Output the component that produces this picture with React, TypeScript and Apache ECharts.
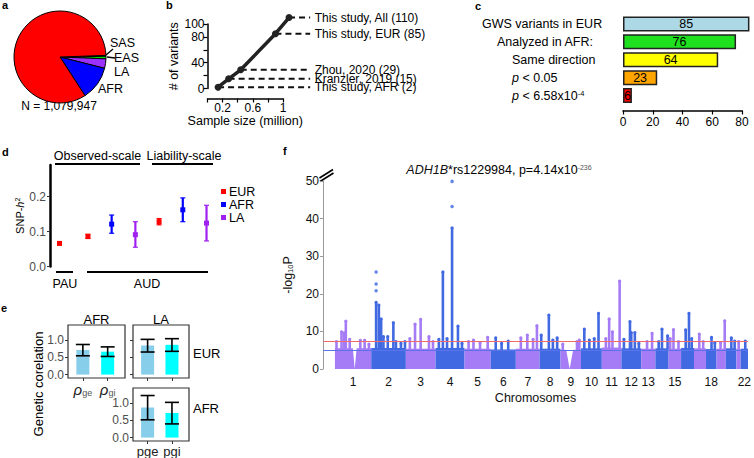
import React, { useEffect, useRef } from "react";
import * as echarts from "echarts";

const FONT = "'Liberation Sans', Arial, sans-serif";

// ---------- a: sample composition ----------
const pieNames = ["SAS", "EAS", "LA", "AFR", "EUR"];
const pieShares = [0.3, 0.9, 3.3, 11.9, 83.6];
const pieColors = ["#ff8c00", "#00e000", "#9b30ff", "#0000ff", "#ff0000"];
const pieEurLabel = "EUR (83.6%)";
const pieTotal = "N = 1,079,947";

// ---------- b: variants vs sample size ----------
const bStudies = [
  "This study, AFR (2)",
  "Kranzler, 2019 (15)",
  "Zhou, 2020 (29)",
  "This study, EUR (85)",
  "This study, All (110)",
];
const bSampleSize = [0.14, 0.28, 0.44, 0.9, 1.08];
const bVariants = [2, 15, 29, 85, 110];
const bYLabels = [0, 40, 80, 100];
const bXLabels = [0.2, 0.6, 1];

// ---------- c: replication ----------
const cCategories = [
  "GWS variants in EUR",
  "Analyzed in AFR:",
  "Same direction",
  "p < 0.05",
  "p < 6.58x10-4",
];
const cCounts = [85, 76, 64, 23, 6];
const cColors = ["#add8e6", "#1ee01e", "#ffff00", "#ffa500", "#ff0000"];

// ---------- d: SNP heritability ----------
const dPopulations = ["EUR", "AFR", "LA"];
const dPopColors = ["#ff0000", "#0000ff", "#a020f0"];
const dPos = [0, 1.2, 2.2, 3.2, 4.2, 5.2, 6.2];
const dPop = ["EUR", "EUR", "AFR", "LA", "EUR", "AFR", "LA"];
const dH2 = [0.066, 0.086, 0.121, 0.091, 0.128, 0.162, 0.124];
const dLow = [0.062, 0.08, 0.095, 0.055, 0.119, 0.128, 0.073];
const dHigh = [0.07, 0.092, 0.147, 0.128, 0.137, 0.196, 0.175];
const dYTicks = [0, 0.1, 0.2];

// ---------- e: genetic correlation ----------
const eTopLabels = ["ρge", "ρgi"];
const eBottomLabels = ["pge", "pgi"];
const eBarColors = ["#87ceeb", "#00ffff"];
const eAfrEur = [0.72, 0.67];
const eAfrEurLow = [0.55, 0.53];
const eAfrEurHigh = [0.88, 0.81];
const eLaEur = [0.85, 0.87];
const eLaEurLow = [0.66, 0.68];
const eLaEurHigh = [1.03, 1.05];
const eLaAfr = [0.88, 0.72];
const eLaAfrLow = [0.52, 0.4];
const eLaAfrHigh = [1.23, 1.03];
const eYTicks = [0, 0.5, 1];

// ---------- f: Manhattan ----------
const chrLength = [253, 241, 207, 202, 182, 175, 166, 145, 143, 145, 136, 138, 99, 92, 87, 90, 83, 74, 64, 74, 30, 51];
const chrBase = [5.5, 5.6, 5.4, 5.6, 5.4, 5.2, 5.4, 5.4, 5.1, 5.5, 5.7, 5.5, 5.4, 5.5, 5.4, 5.6, 5.5, 5.3, 5.4, 5.5, 5.3, 5.4];
const chrShown = [1, 2, 3, 4, 5, 6, 7, 8, 9, 10, 11, 12, 13, 15, 18, 22];
// [chromosome, position within chromosome (Mb), top -log10P]
const fPeaks = [
  [1, 11, 7.3], [1, 46, 9.9], [1, 64, 9.6], [1, 76, 12.7], [1, 103, 7.9], [1, 177, 7.6], [1, 207, 7.6], [1, 237, 6.6],
  [2, 34, 17.7], [2, 53, 17.0], [2, 69, 13.3], [2, 85, 8.6], [2, 115, 8.6], [2, 154, 12.3], [2, 172, 7.3], [2, 207, 6.8], [2, 235, 7.3],
  [3, 28, 8.1], [3, 64, 11.9], [3, 103, 13.2], [3, 161, 8.6], [3, 189, 7.3],
  [4, 23, 7.9], [4, 51, 25.8], [4, 80, 8.1], [4, 115, 37.5], [4, 156, 11.4], [4, 184, 6.8],
  [5, 28, 7.3], [5, 62, 7.7], [5, 108, 7.0], [5, 161, 8.4],
  [6, 35, 8.3], [6, 76, 6.8], [6, 122, 7.4],
  [7, 35, 8.3], [7, 80, 9.0], [7, 120, 7.9], [7, 147, 11.5],
  [8, 11, 9.0], [8, 64, 14.3], [8, 92, 7.7], [8, 122, 8.3],
  [9, 16, 6.6], [9, 115, 7.3], [9, 131, 7.7],
  [10, 23, 10.6], [10, 58, 7.7], [10, 92, 8.1], [10, 122, 14.8],
  [11, 28, 8.1], [11, 51, 13.3], [11, 74, 9.9], [11, 124, 23.4],
  [12, 18, 7.9], [12, 60, 12.6], [12, 69, 9.7], [12, 94, 9.7], [12, 122, 6.8],
  [13, 41, 7.3], [13, 76, 9.5],
  [14, 23, 7.3], [14, 46, 10.6], [14, 85, 8.8],
  [15, 11, 8.1], [15, 34, 10.5], [15, 69, 7.3],
  [16, 32, 10.4], [16, 55, 14.8], [16, 74, 8.1],
  [17, 37, 9.3], [17, 64, 7.3],
  [18, 39, 8.4], [18, 62, 7.0],
  [19, 28, 7.0], [19, 57, 12.8],
  [20, 39, 8.3], [20, 62, 7.4],
  [21, 16, 7.3],
  [22, 32, 7.4],
];
const fHits = [
  [2, 34, 20.8], [2, 34, 22.6], [2, 34, 25.8],
  [4, 115, 43.2], [4, 115, 49.9],
];
const fGaps = [
  [1, 124, 152],
  [9, 38, 90],
];
const fThresholds = [7.3, 5];
const fTitle = "{i|ADH1B}*rs1229984, p=4.14x10{sup|-236}";

const PURPLE = "#a57cf5";
const BLUE = "#4169e1";

function buildOption(): any {
  const chrStart: number[] = [];
  chrLength.forEach((l, i) => chrStart.push(i === 0 ? 0 : chrStart[i - 1] + chrLength[i - 1]));
  const genomeEnd = chrStart[chrStart.length - 1] + chrLength[chrLength.length - 1];
  const chrColor = (chr: number) => (chr % 2 === 1 ? PURPLE : BLUE);
  const chrCenters = chrShown.map((c) => chrStart[c - 1] + chrLength[c - 1] / 2);
  const bLabelX = 1.36;
  const bDataMax = 1.4;
  const bUnit = 75.5;

  const txt = (x: number, y: number, text: string, extra: any = {}) => ({
    type: "text",
    x,
    y,
    silent: true,
    style: {
      text,
      fill: "#000",
      font: `${extra.fontWeight || "normal"} ${extra.fontSize || 12.5}px ${FONT}`,
      align: extra.align || "left",
      verticalAlign: "middle",
      rich: extra.rich,
    },
    rotation: extra.rotation || 0,
  });
  const seg = (x1: number, y1: number, x2: number, y2: number, w = 1.5) => ({
    type: "line",
    silent: true,
    shape: { x1, y1, x2, y2 },
    style: { stroke: "#000", lineWidth: w },
  });

  // ---- d custom render
  const dRender = (color: string) => (params: any, api: any) => {
    const x = api.value(0);
    const c = api.coord([x, api.value(1)]);
    const lo = api.coord([x, api.value(2)]);
    const hi = api.coord([x, api.value(3)]);
    return {
      type: "group",
      children: [
        { type: "line", shape: { x1: c[0], y1: lo[1], x2: c[0], y2: hi[1] }, style: { stroke: color, lineWidth: 2.2 } },
        { type: "line", shape: { x1: c[0] - 2.5, y1: lo[1], x2: c[0] + 2.5, y2: lo[1] }, style: { stroke: color, lineWidth: 1.2 } },
        { type: "line", shape: { x1: c[0] - 2.5, y1: hi[1], x2: c[0] + 2.5, y2: hi[1] }, style: { stroke: color, lineWidth: 1.2 } },
        { type: "rect", shape: { x: c[0] - 2.5, y: c[1] - 2.5, width: 5, height: 5 }, style: { fill: color } },
      ],
    };
  };
  const dSeries = dPopulations.map((pop, pi) => ({
    type: "custom",
    name: pop,
    xAxisIndex: 2,
    yAxisIndex: 2,
    itemStyle: { color: dPopColors[pi] },
    renderItem: dRender(dPopColors[pi]),
    encode: { x: 0, y: [1, 2, 3] },
    data: dPop
      .map((p, i) => (p === pop ? [dPos[i], dH2[i], dLow[i], dHigh[i]] : null))
      .filter((v) => v !== null),
  }));

  // ---- e
  const errRender = (params: any, api: any) => {
    const x = api.value(0);
    const lo = api.coord([x, api.value(1)]);
    const hi = api.coord([x, api.value(2)]);
    const hw = 7;
    return {
      type: "group",
      children: [
        { type: "line", shape: { x1: lo[0], y1: lo[1], x2: hi[0], y2: hi[1] }, style: { stroke: "#000", lineWidth: 1.6 } },
        { type: "line", shape: { x1: lo[0] - hw, y1: lo[1], x2: lo[0] + hw, y2: lo[1] }, style: { stroke: "#000", lineWidth: 1.6 } },
        { type: "line", shape: { x1: hi[0] - hw, y1: hi[1], x2: hi[0] + hw, y2: hi[1] }, style: { stroke: "#000", lineWidth: 1.6 } },
      ],
    };
  };
  const ePanels = [
    { axis: 3, v: eAfrEur, lo: eAfrEurLow, hi: eAfrEurHigh },
    { axis: 4, v: eLaEur, lo: eLaEurLow, hi: eLaEurHigh },
    { axis: 5, v: eLaAfr, lo: eLaAfrLow, hi: eLaAfrHigh },
  ];
  const eSeries: any[] = [];
  ePanels.forEach((p) => {
    eSeries.push({
      type: "bar",
      xAxisIndex: p.axis,
      yAxisIndex: p.axis,
      barWidth: 13,
      data: p.v.map((v, i) => ({ value: [i + 1, v], itemStyle: { color: eBarColors[i] } })),
      silent: true,
    });
    eSeries.push({
      type: "custom",
      xAxisIndex: p.axis,
      yAxisIndex: p.axis,
      renderItem: errRender,
      encode: { x: 0, y: [1, 2] },
      data: p.v.map((v, i) => [i + 1, p.lo[i], p.hi[i]]),
      z: 3,
    });
  });

  const eXLabel = (labels: string[]) => (v: number) => {
    const s = labels[Math.round(v) - 1] || "";
    return `{r|${s.slice(0, 1)}}{s|${s.slice(1)}}`;
  };

  const eGridBase = { show: true, borderColor: "#333", borderWidth: 1.2, backgroundColor: "#fff" };
  const eX = (gridIndex: number, labels: string[] | null, italicFirst: boolean) => ({
    type: "value",
    gridIndex,
    min: 0.4,
    max: 2.7,
    axisLine: { show: false, onZero: false },
    splitLine: { show: false },
    axisTick: { show: true, customValues: [1, 2], length: 3, lineStyle: { color: "#333" } },
    axisLabel: labels
      ? {
          show: true,
          customValues: [1, 2],
          margin: 4,
          formatter: eXLabel(labels),
          rich: {
            r: { fontSize: labels === eTopLabels ? 15 : 13, color: "#222", fontStyle: italicFirst ? "italic" : "normal", fontFamily: FONT },
            s: { fontSize: labels === eTopLabels ? 9 : 13, color: labels === eTopLabels ? "#555" : "#222", verticalAlign: "bottom", fontFamily: FONT },
          },
        }
      : { show: false },
  });
  const eY = (gridIndex: number, showLabels: boolean) => ({
    type: "value",
    gridIndex,
    min: -0.1,
    max: 1.45,
    axisLine: { show: false, onZero: false },
    splitLine: { show: false },
    axisTick: { show: true, customValues: eYTicks, length: 3, lineStyle: { color: "#333" } },
    axisLabel: {
      show: showLabels,
      customValues: eYTicks,
      margin: 4,
      fontSize: 12,
      color: "#4d4d4d",
      formatter: (v: number) => v.toFixed(1),
    },
  });

  // ---- f
  const baseData = chrLength.map((l, i) => [chrStart[i], chrStart[i] + l, chrBase[i], i + 1]);
  const peakData = fPeaks.map(([chr, pos, top]) => [chrStart[chr - 1] + pos, top, chr]);
  const hitData = fHits.map(([chr, pos, v]) => [chrStart[chr - 1] + pos, v, chr]);
  const gapData = fGaps.map(([chr, s, e]) => [chrStart[chr - 1] + s, chrStart[chr - 1] + e, chrBase[chr - 1] + 0.4]);

  const option: any = {
    animation: false,
    backgroundColor: "#fff",
    textStyle: { fontFamily: FONT, color: "#000" },
    legend: {
      data: dPopulations,
      left: 221,
      top: 185,
      orient: "vertical",
      icon: "rect",
      itemWidth: 5,
      itemHeight: 5,
      itemGap: 0,
      padding: 0,
      selectedMode: false,
      textStyle: { fontSize: 12.5, lineHeight: 12.6, color: "#000", fontFamily: FONT, padding: [0, 0, 0, -2] },
    },
    grid: [
      { left: 207.5, top: 24, width: bUnit, height: 64.5 }, // b (visible axes)
      { left: 623, top: 15, width: 119, height: 89.5 }, // c
      { left: 50, top: 165, width: 166, height: 101.5 }, // d
      { ...eGridBase, left: 68, top: 325, width: 57, height: 53 }, // e TL
      { ...eGridBase, left: 133, top: 325, width: 56, height: 53 }, // e TR
      { ...eGridBase, left: 133, top: 388, width: 56, height: 54 }, // e BR
      { left: 323, top: 181, width: 429, height: 188 }, // f
      { left: 207.5, top: 24, width: bUnit * bDataMax, height: 64.5 }, // b (data, wider)
    ],
    xAxis: [
      {
        type: "value",
        gridIndex: 0,
        min: 0,
        max: 1,
        interval: 0.2,
        offset: 10,
        axisLine: { show: true, onZero: false, lineStyle: { color: "#000", width: 1.5 } },
        axisTick: { show: true, length: 4, lineStyle: { color: "#000", width: 1.2 } },
        splitLine: { show: false },
        axisLabel: {
          fontSize: 12,
          color: "#000",
          margin: 3,
          formatter: (v: number) => (bXLabels.some((l) => Math.abs(l - v) < 1e-6) ? String(+v.toFixed(1)) : ""),
        },
        name: "Sample size (million)",
        nameLocation: "middle",
        nameGap: 15,
        nameTextStyle: { fontSize: 12.5, color: "#000" },
      },
      {
        type: "value",
        gridIndex: 1,
        min: 0,
        max: 80,
        interval: 20,
        offset: 6,
        axisLine: { show: true, onZero: false, lineStyle: { color: "#000", width: 1.5 } },
        axisTick: { show: true, length: 4, lineStyle: { color: "#000", width: 1.2 } },
        splitLine: { show: false },
        axisLabel: { fontSize: 12, color: "#000", margin: 5 },
      },
      { type: "value", gridIndex: 2, min: -0.4, max: 6.6, show: false, axisLine: { onZero: false } },
      eX(3, eTopLabels, true),
      eX(4, null, false),
      eX(5, eBottomLabels, false),
      {
        type: "value",
        gridIndex: 6,
        min: -83,
        max: genomeEnd,
        axisLine: { show: false, onZero: false },
        axisTick: { show: false },
        splitLine: { show: false },
        axisLabel: {
          customValues: chrCenters,
          fontSize: 12,
          color: "#111",
          margin: 7,
          formatter: (v: number) => {
            const k = chrCenters.findIndex((c) => Math.abs(c - v) < 0.01);
            return k >= 0 ? String(chrShown[k]) : "";
          },
        },
        name: "Chromosomes",
        nameLocation: "middle",
        nameGap: 22,
        nameTextStyle: { fontSize: 12.5, color: "#111" },
      },
      { type: "value", gridIndex: 7, min: 0, max: bDataMax, show: false, axisLine: { onZero: false } },
    ],
    yAxis: [
      {
        type: "value",
        gridIndex: 0,
        min: 0,
        max: 100,
        interval: 20,
        axisLine: { show: true, onZero: false, lineStyle: { color: "#000", width: 1.5 } },
        axisTick: { show: true, length: 4, lineStyle: { color: "#000", width: 1.2 } },
        splitLine: { show: false },
        axisLabel: {
          fontSize: 12,
          color: "#000",
          margin: 3,
          formatter: (v: number) => (bYLabels.includes(v) ? String(v) : ""),
        },
        name: "# of variants",
        nameLocation: "middle",
        nameGap: 22,
        nameTextStyle: { fontSize: 12.5, color: "#000" },
      },
      {
        type: "category",
        gridIndex: 1,
        data: cCategories,
        inverse: true,
        axisLine: { show: false, onZero: false },
        axisTick: { show: false },
        axisLabel: {
          align: "left",
          margin: 141,
          formatter: (value: string, index: number) => {
            if (index === 0) return `{n|${value}}`;
            if (index === 1) return `{a|${value}}`;
            if (value.startsWith("p")) {
              const rest = value.slice(1);
              const m = rest.match(/^(.*x10)(-\d+)$/);
              if (m) return `{pi|p}{n|${m[1]}}{sup|${m[2]}}`;
              return `{pi|p}{n|${rest}}`;
            }
            return `{b|${value}}`;
          },
          rich: {
            n: { fontSize: 12.5, color: "#000", fontFamily: FONT },
            a: { fontSize: 12.5, color: "#000", fontFamily: FONT, padding: [0, 0, 0, 15] },
            b: { fontSize: 12.5, color: "#000", fontFamily: FONT, padding: [0, 0, 0, 30] },
            pi: { fontSize: 12.5, color: "#000", fontFamily: FONT, fontStyle: "italic", padding: [0, 0, 0, 30] },
            sup: { fontSize: 7.5, color: "#000", fontFamily: FONT, verticalAlign: "top", lineHeight: 10 },
          },
        },
      },
      {
        type: "value",
        gridIndex: 2,
        min: 0,
        max: 0.29,
        axisLine: { show: true, onZero: false, lineStyle: { color: "#000", width: 2.5 } },
        axisTick: { show: true, customValues: dYTicks, length: 3, lineStyle: { color: "#333" } },
        splitLine: { show: false },
        axisLabel: {
          customValues: dYTicks,
          fontSize: 12,
          color: "#4d4d4d",
          margin: 4,
          formatter: (v: number) => v.toFixed(1),
        },
        name: "{n|SNP-}{i|h}{s|2}",
        nameLocation: "middle",
        nameGap: 21,
        nameTextStyle: {
          rich: {
            n: { fontSize: 11, color: "#000", fontFamily: FONT },
            i: { fontSize: 11, color: "#000", fontFamily: FONT, fontStyle: "italic" },
            s: { fontSize: 7, color: "#000", fontFamily: FONT, verticalAlign: "top", lineHeight: 8 },
          },
        },
      },
      eY(3, true),
      eY(4, false),
      eY(5, true),
      {
        type: "value",
        gridIndex: 6,
        min: 0,
        max: 50,
        interval: 10,
        axisLine: { show: true, onZero: false, lineStyle: { color: "#999", width: 1 } },
        axisTick: { show: true, length: 3, lineStyle: { color: "#999" } },
        splitLine: { show: false },
        axisLabel: { fontSize: 12, color: "#111", margin: 4 },
        name: "{n|-log}{s|10}{n|P}",
        nameLocation: "middle",
        nameGap: 20,
        nameTextStyle: {
          rich: {
            n: { fontSize: 12.5, color: "#111", fontFamily: FONT },
            s: { fontSize: 7.5, color: "#111", fontFamily: FONT, verticalAlign: "bottom", lineHeight: 10 },
          },
        },
      },
      { type: "value", gridIndex: 7, min: 0, max: 100, show: false, axisLine: { onZero: false } },
    ],
    series: [
      ...dSeries,
      {
        type: "pie",
        center: [60, 57],
        radius: 46,
        startAngle: 2,
        clockwise: true,
        silent: true,
        label: { show: false },
        labelLine: { show: false },
        itemStyle: { borderColor: "#000", borderWidth: 1 },
        data: pieNames.map((n, i) => ({ name: n, value: pieShares[i], itemStyle: { color: pieColors[i] } })),
      },
      {
        type: "line",
        xAxisIndex: 7,
        yAxisIndex: 7,
        clip: false,
        symbol: "circle",
        symbolSize: 7,
        lineStyle: { color: "#222", width: 3.5 },
        itemStyle: { color: "#222" },
        data: bSampleSize.map((x, i) => [x, bVariants[i]]),
        z: 4,
      },
      ...bStudies.map((name, i) => ({
        type: "line",
        xAxisIndex: 7,
        yAxisIndex: 7,
        clip: false,
        symbol: "none",
        lineStyle: { color: "#111", width: 2, type: [6, 4] },
        data: [
          [bSampleSize[i], bVariants[i]],
          [bLabelX, bVariants[i]],
        ],
        z: 2,
      })),
      {
        type: "scatter",
        xAxisIndex: 7,
        yAxisIndex: 7,
        clip: false,
        silent: true,
        symbolSize: 1,
        itemStyle: { opacity: 0 },
        data: bStudies.map((name, i) => ({ name, value: [bLabelX, bVariants[i]] })),
        label: {
          show: true,
          position: "right",
          distance: 4,
          formatter: "{b}",
          fontSize: 12,
          lineHeight: 9,
          color: "#000",
          fontFamily: FONT,
          opacity: 1,
        },
        labelLayout: { hideOverlap: false },
        z: 3,
      },
      {
        type: "bar",
        xAxisIndex: 1,
        yAxisIndex: 1,
        clip: false,
        barWidth: 15,
        data: cCounts.map((v, i) => ({ value: v, itemStyle: { color: cColors[i] } })),
        itemStyle: { borderColor: "#222", borderWidth: 1.5 },
        label: { show: true, position: "inside", fontSize: 12.5, color: "#000", fontFamily: FONT },
        silent: true,
      },
      ...eSeries,
      {
        type: "custom",
        xAxisIndex: 6,
        yAxisIndex: 6,
        silent: true,
        encode: { x: [0, 1], y: 2 },
        data: baseData,
        renderItem: (params: any, api: any) => {
          const p0 = api.coord([api.value(0), api.value(2)]);
          const p1 = api.coord([api.value(1), 0]);
          return {
            type: "rect",
            shape: { x: p0[0], y: p0[1], width: p1[0] - p0[0], height: p1[1] - p0[1] },
            style: { fill: chrColor(api.value(3)) },
          };
        },
        z: 1,
      },
      {
        type: "custom",
        xAxisIndex: 6,
        yAxisIndex: 6,
        silent: true,
        encode: { x: [0, 1], y: 2 },
        data: gapData,
        renderItem: (params: any, api: any) => {
          const a = api.coord([api.value(0), api.value(2)]);
          const b = api.coord([api.value(1), api.value(2)]);
          const c = api.coord([(api.value(0) + api.value(1)) / 2, 0]);
          return {
            type: "polygon",
            shape: { points: [a, b, c] },
            style: { fill: "#fff" },
          };
        },
        z: 2,
      },
      {
        type: "custom",
        xAxisIndex: 6,
        yAxisIndex: 6,
        silent: true,
        encode: { x: 0, y: 1 },
        data: peakData,
        renderItem: (params: any, api: any) => {
          const chr = api.value(2);
          const x = api.value(0);
          const p0 = api.coord([x, chrBase[chr - 1] - 0.2]);
          const p1 = api.coord([x, api.value(1)]);
          const color = chrColor(chr);
          return {
            type: "group",
            children: [
              { type: "line", shape: { x1: p0[0], y1: p0[1], x2: p1[0], y2: p1[1] }, style: { stroke: color, lineWidth: 2.6 } },
              { type: "circle", shape: { cx: p1[0], cy: p1[1], r: 1.6 }, style: { fill: color } },
            ],
          };
        },
        z: 3,
      },
      {
        type: "scatter",
        xAxisIndex: 6,
        yAxisIndex: 6,
        silent: true,
        symbolSize: 3.5,
        data: hitData,
        itemStyle: { color: (p: any) => chrColor(p.data[2]) },
        markLine: {
          silent: true,
          symbol: "none",
          label: { show: false },
          data: [
            { yAxis: fThresholds[0], lineStyle: { color: "#f06a6a", width: 1, type: "solid" } },
            { yAxis: fThresholds[1], lineStyle: { color: "#5a72ea", width: 1, type: "solid" } },
          ],
        },
        z: 5,
      },
    ],
    graphic: [
      // panel letters
      txt(2, 5, "a", { fontWeight: "bold", fontSize: 11 }),
      txt(166, 5, "b", { fontWeight: "bold", fontSize: 11 }),
      txt(475, 6, "c", { fontWeight: "bold", fontSize: 11 }),
      txt(2, 152, "d", { fontWeight: "bold", fontSize: 11 }),
      txt(1, 308, "e", { fontWeight: "bold", fontSize: 11 }),
      txt(283, 151, "f", { fontWeight: "bold", fontSize: 11 }),
      // a labels
      txt(57, 37, pieEurLabel, { align: "center", fontSize: 12 }),
      txt(110, 43, pieNames[0], { fontSize: 12.5 }),
      txt(114, 58, pieNames[1], { fontSize: 12.5 }),
      txt(114, 72, pieNames[2], { fontSize: 12.5 }),
      txt(98, 89, pieNames[3], { fontSize: 12.5 }),
      txt(59, 106, pieTotal, { align: "center", fontSize: 12 }),
      seg(106, 55, 113, 49, 1.3),
      seg(107, 57, 115, 58, 1.3),
      // d annotations
      txt(97.5, 156, "Observed-scale", { align: "center" }),
      seg(55, 164, 140, 164, 2),
      txt(184, 156, "Liability-scale", { align: "center" }),
      seg(152, 164, 213, 164, 2),
      seg(56, 272, 73, 272, 2),
      txt(65, 284, "PAU", { align: "center" }),
      seg(87, 272, 208, 272, 2),
      txt(147, 284, "AUD", { align: "center" }),
      // e annotations
      txt(96.5, 319, "AFR", { align: "center", fontSize: 13 }),
      txt(161, 319, "LA", { align: "center", fontSize: 13 }),
      txt(193, 353, "EUR", { fontSize: 13 }),
      txt(193, 408, "AFR", { fontSize: 13 }),
      txt(38, 384, "Genetic corelation", { align: "center", fontSize: 13, rotation: Math.PI / 2 }),
      // f annotations
      txt(499, 170, fTitle, {
        align: "center",
        fontSize: 12.5,
        rich: {
          i: { fontStyle: "italic", fontSize: 12.5, fontFamily: FONT, fill: "#111" },
          sup: { fontSize: 7, fontFamily: FONT, fill: "#555", verticalAlign: "top", lineHeight: 9 },
        },
      }),
      seg(319.5, 178, 333, 169.5, 1.6),
      seg(320, 181.5, 333.5, 173, 1.6),
    ],
  };
  return option;
}

export default function App() {
  const ref = useRef<HTMLDivElement>(null);
  useEffect(() => {
    if (!ref.current) return;
    const chart = echarts.init(ref.current, null, { renderer: "svg" });
    chart.setOption(buildOption());
    return () => chart.dispose();
  }, []);
  return (
    <div
      ref={ref}
      style={{ position: "absolute", left: 0, top: 0, width: 754, height: 458, background: "#fff" }}
    />
  );
}
